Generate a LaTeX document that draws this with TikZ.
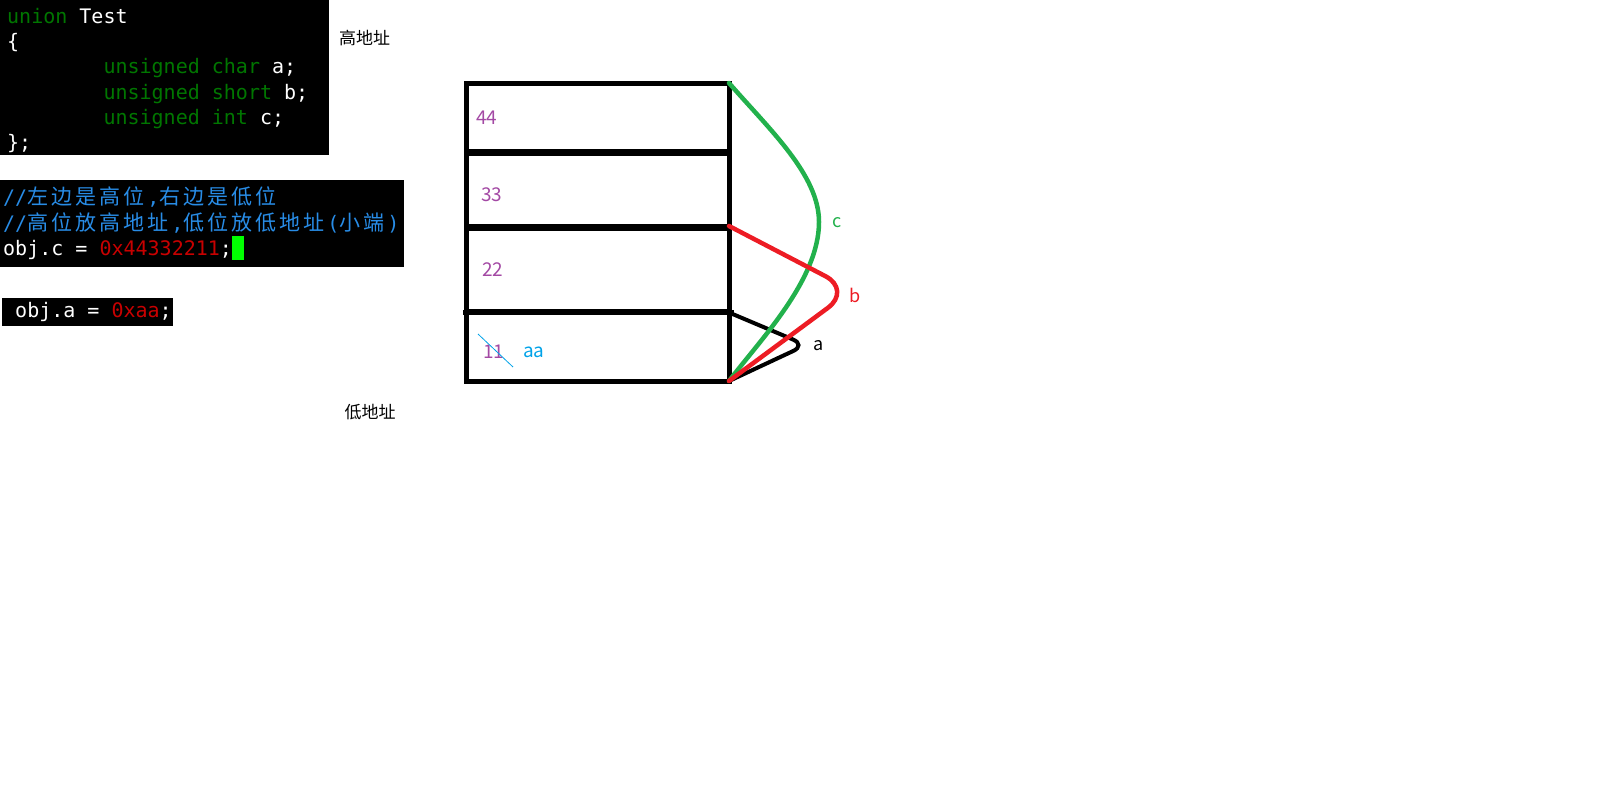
\documentclass[tikz,border=0pt]{standalone}
\usepackage{fontspec}
\setmonofont{DejaVu Sans Mono}
\newfontfamily\cjk{Noto Sans CJK SC}
\newfontfamily\cjkcode[LetterSpace=14.3]{Noto Sans CJK SC}
\usetikzlibrary{positioning}

\definecolor{kwgreen}{RGB}{0,118,0}
\definecolor{cmtblue}{RGB}{40,140,230}
\definecolor{numred}{RGB}{200,0,0}
\definecolor{cursorgreen}{RGB}{0,255,0}
\definecolor{numpurple}{RGB}{163,73,164}
\definecolor{aablue}{RGB}{0,162,232}
\definecolor{cgreen}{RGB}{34,177,76}
\definecolor{cred}{RGB}{237,28,36}

% one mono cell, and CJK text two cells wide per character
\newcommand\gap{\hspace*{0.602em}}
\newcommand\zh[1]{{\fontsize{21}{25.3}\cjkcode #1\hspace*{3pt}}}

\begin{document}
\begin{tikzpicture}[x=1pt,y=1pt,
  codebox/.style={fill=black, text=white, anchor=north west, inner ysep=0pt, align=left,
    font=\ttfamily\fontsize{20}{25.3}\selectfont},
  cell/.style={draw, line width=5pt, minimum width=263pt, inner sep=0pt, outer sep=0pt},
  num/.style={anchor=west, inner sep=0pt, text=numpurple, font=\cjk\fontsize{19}{19}\selectfont},
  addr/.style={inner sep=0pt, font=\cjk\fontsize{17}{17}\selectfont},
  span/.style={line width=4.5pt, line cap=round},
  tag/.style={inner sep=0pt, font=\cjk\fontsize{18}{18}\selectfont}]
\useasboundingbox (0,0) rectangle (1621,-809);

% code
\node[codebox, inner xsep=7pt, text width=315pt, minimum height=155pt] (decl) at (0,0) {%
\rule{0pt}{21pt}\textcolor{kwgreen}{union}\gap Test\\
\{\\
\gap\gap\gap\gap\gap\gap\gap\gap\textcolor{kwgreen}{unsigned\gap char}\gap a;\\
\gap\gap\gap\gap\gap\gap\gap\gap\textcolor{kwgreen}{unsigned\gap short}\gap b;\\
\gap\gap\gap\gap\gap\gap\gap\gap\textcolor{kwgreen}{unsigned\gap int}\gap c;\\
\};};
\node[codebox, inner xsep=3pt, text width=398pt, minimum height=87pt] (assignc) at (0,-180) {%
\textcolor{cmtblue}{//\zh{左边是高位},\zh{右边是低位}}\\
\textcolor{cmtblue}{//\zh{高位放高地址},\zh{低位放低地址}(\zh{小端})}\\
obj.c\gap=\gap\textcolor{numred}{0x44332211};\textcolor{cursorgreen}{\rule[-5pt]{12pt}{24pt}}};
\node[codebox, inner xsep=1pt, text width=169pt, minimum height=28pt] (assigna) at (2,-298) {%
\gap obj.a\gap=\gap\textcolor{numred}{0xaa};};

\node[addr] (high) at (364.5,-38) {高地址};
\node[addr] (low) at (370,-411.7) {低地址};

% memory
\node[cell, minimum height=68pt] (cell44) at (597.5,-117) {};
\node[cell, minimum height=73pt, below=2pt of cell44] (cell33) {};
\node[cell, minimum height=83.5pt, below=2pt of cell33] (cell22) {};
\node[cell, minimum height=68.5pt, below=1pt of cell22] (cell11) {};
\draw[line width=5pt, shorten <=-3pt, shorten >=-5pt] (cell11.north west) -- (cell11.north east);

\node[num] (v44) at (476,-118) {44};
\node[num] (v33) at (481,-195) {33};
\node[num] (v22) at (482,-270) {22};
\node[num] (v11) at (483,-352) {11};
\node[num, text=aablue] (vaa) at (523,-352) {aa};
\coordinate (cutA) at (478,-334);
\coordinate (cutB) at (513,-367);
\draw[aablue, line width=0.8pt] (cutA) -- (cutB);

% spans
\coordinate (cturn) at (819,-222);
\coordinate (bturn) at (852,-290);
\coordinate (aturn) at (806,-345);
\draw[span, line width=4pt, rounded corners=14pt] (cell11.north east) -- (aturn) -- (cell11.south east);
\draw[span, cgreen] (cell44.north east) .. controls (770,-130) and (819,-175) .. (cturn)
  .. controls (819,-280) and (760,-340) .. (cell11.south east);
\draw[span, cred, rounded corners=30pt] (cell33.south east) -- (bturn) -- (cell11.south east);

\node[tag, text=cgreen] (tc) at (837,-223) {c};
\node[tag, text=cred] (tb) at (855,-295) {b};
\node[tag] (ta) at (819,-346) {a};
\end{tikzpicture}
\end{document}
